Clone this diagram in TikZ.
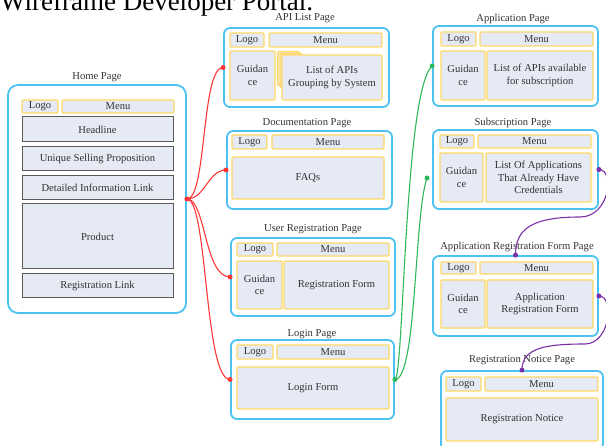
\documentclass[tikz,border=0pt]{standalone}
\usepackage{fontspec}
\setmainfont{Liberation Serif}
\usepackage{tikz}

\definecolor{pageblue}{HTML}{4CC2F1}
\definecolor{baryellow}{HTML}{FFD966}
\definecolor{boxfill}{HTML}{E5EAF5}
\definecolor{boxgray}{HTML}{5A5A5A}
\definecolor{inkgray}{HTML}{333333}
\definecolor{stackfill}{HTML}{F2E4BA}
\definecolor{linkred}{HTML}{FF3636}
\definecolor{linkgreen}{HTML}{2EB85C}
\definecolor{linkpurple}{HTML}{7A2FA6}

\newcommand{\lbl}{\fontsize{10.6}{12.4}\selectfont}

\tikzset{
  wh/.style 2 args={minimum width=#1pt, minimum height=#2pt},
  page/.style={draw=pageblue, line width=1.8pt, rounded corners=6pt, fill=white, inner sep=0pt},
  bar/.style={draw=baryellow, line width=1.2pt, fill=boxfill, rounded corners=1pt, inner sep=0pt,
    text=inkgray, font=\lbl, align=center},
  block/.style={draw=boxgray, line width=1pt, fill=boxfill, inner sep=0pt, text=inkgray, font=\lbl},
  ttl/.style={text=inkgray, font=\lbl, inner sep=0pt},
  conn/.style={draw=#1, line width=1.1pt},
  jdot/.style={circle, fill=#1, inner sep=0pt, minimum size=5pt}
}

\begin{document}
\begin{tikzpicture}[x=1pt, y=-1pt]
        \useasboundingbox (0,0) rectangle (606,446);
        \node[anchor=base west, inner sep=0pt, font=\fontsize{27}{30}\selectfont] (title) at (0,11) {Wireframe Developer Portal.};

        % home page
        \node[page, rounded corners=10pt, wh={178}{228}] (home) at (97,199) {};
        \node[ttl] (homeT) at (97,77) {Home Page};
        \node[bar, wh={36}{13}] (hLogo) at (40,106.5) {Logo};
        \node[bar, wh={112}{13}] (hMenu) at (118,106.5) {Menu};
        \node[block, wh={151}{25}] (headline) at (97.5,129.5) {Headline};
        \node[block, wh={151}{24}] (usp) at (97.5,159) {Unique Selling Proposition};
        \node[block, wh={151}{24}] (detail) at (97.5,188) {Detailed Information Link};
        \node[block, wh={151}{65}] (product) at (97.5,236.5) {Product};
        \node[block, wh={151}{24}] (regLink) at (97.5,286) {Registration Link};

        % api list page
        \node[page, wh={165}{79}] (apilist) at (306.5,67.5) {};
        \node[ttl] (apilistT) at (305,18) {API List Page};
        \node[bar, wh={34}{14}] (aLogo) at (247,40) {Logo};
        \node[bar, wh={113}{14}] (aMenu) at (325.5,40) {Menu};
        \node[bar, wh={45}{49}] (aGuide) at (252.5,75.5) {Guidan\\ce};
        \node[bar, fill=stackfill, wh={22}{34}, anchor=north west] (aStack1) at (277,51) {};
        \node[bar, fill=stackfill, wh={22}{34}, anchor=north west] (aStack2) at (279.5,53) {};
        \node[bar, wh={100}{45}] (aList) at (332,77.5) {List of APIs\\Grouping by System};

        % documentation page
        \node[page, wh={165}{78}] (doc) at (309.5,170) {};
        \node[ttl] (docT) at (307,123) {Documentation Page};
        \node[bar, wh={35}{14}] (dLogo) at (249.5,142) {Logo};
        \node[bar, wh={112}{14}] (dMenu) at (328,142) {Menu};
        \node[bar, wh={152}{42}] (faq) at (308,178) {FAQs};

        % user registration page
        \node[page, wh={164}{78}] (ureg) at (313,277) {};
        \node[ttl] (uregT) at (313,229) {User Registration Page};
        \node[bar, wh={36}{13}] (uLogo) at (255,249.5) {Logo};
        \node[bar, wh={112}{13}] (uMenu) at (333,249.5) {Menu};
        \node[bar, wh={45}{48}] (uGuide) at (259.5,285) {Guidan\\ce};
        \node[bar, wh={105}{48}] (uForm) at (336.5,285) {Registration Form};

        % login page
        \node[page, wh={163}{79}] (login) at (312.5,379.5) {};
        \node[ttl] (loginT) at (312,334) {Login Page};
        \node[bar, wh={36}{14}] (lLogo) at (255,352) {Logo};
        \node[bar, wh={112}{14}] (lMenu) at (333,352) {Menu};
        \node[bar, wh={152}{42}] (lForm) at (313,388) {Login Form};

        % application page
        \node[page, wh={165}{80}] (app) at (515.5,66) {};
        \node[ttl] (appT) at (513,19) {Application Page};
        \node[bar, wh={35}{14}] (pLogo) at (458.5,39) {Logo};
        \node[bar, wh={113}{14}] (pMenu) at (536.5,39) {Menu};
        \node[bar, wh={44}{49}] (pGuide) at (463,75.5) {Guidan\\ce};
        \node[bar, wh={106}{49}] (pList) at (540,75.5) {List of APIs available\\for subscription};

        % subscription page
        \node[page, wh={165}{79}] (sub) at (515.5,169.5) {};
        \node[ttl] (subT) at (513,123) {Subscription Page};
        \node[bar, wh={34}{13}] (sLogo) at (457,141.5) {Logo};
        \node[bar, wh={113}{13}] (sMenu) at (534.5,141.5) {Menu};
        \node[bar, wh={43}{49}] (sGuide) at (461.5,177.5) {Guidan\\ce};
        \node[bar, wh={105}{49}] (sList) at (538.5,177.5) {List Of Applications\\That Already Have\\Credentials};

        % application registration form page
        \node[page, wh={165}{80}] (arf) at (515.5,296) {};
        \node[ttl] (arfT) at (517,247) {Application Registration Form Page};
        \node[bar, wh={35}{12}] (fLogo) at (458.5,268) {Logo};
        \node[bar, wh={113}{12}] (fMenu) at (536.5,268) {Menu};
        \node[bar, wh={44}{48}] (fGuide) at (463,304) {Guidan\\ce};
        \node[bar, wh={106}{48}] (fForm) at (540,304) {Application\\Registration Form};

        % registration notice page
        \node[page, wh={162}{79}] (rn) at (522,410.5) {};
        \node[ttl] (rnT) at (522,360) {Registration Notice Page};
        \node[bar, wh={35}{14}] (rLogo) at (463.5,384) {Logo};
        \node[bar, wh={113}{14}] (rMenu) at (541.5,384) {Menu};
        \node[bar, wh={152}{43}] (notice) at (522,419.5) {Registration Notice};

        % links
        \coordinate (subIn) at (427,178);
        \draw[conn=linkred] (home.east) .. controls +(20,0) and +(-22,0) .. (apilist.west);
        \draw[conn=linkred] (home.east) .. controls +(18,0) and +(-18,0) .. (doc.west);
        \draw[conn=linkred] (home.east) .. controls +(19,0) and +(-26,0) .. (ureg.west);
        \draw[conn=linkred] (home.east) .. controls +(21,0) and +(-26,0) .. (login.west);
        \draw[conn=linkgreen] (login.east) .. controls +(9,0) and +(-28,25) .. (app.west);
        \draw[conn=linkgreen] (login.east) .. controls +(22,0) and +(-13,37) .. (subIn);
        \draw[conn=linkpurple] (sub.east) .. controls +(16,0) and +(30,0) .. (580,217)
              .. controls +(-50,0) and +(0,-25) .. (arf.north);
        \draw[conn=linkpurple] (arf.east) .. controls +(16,0) and +(25,0) .. (585,344)
              .. controls +(-40,0) and +(0,-22) .. (rn.north);

        \node[jdot=linkred] (r0) at (home.east) {};
        \node[jdot=linkred] (r1) at (apilist.west) {};
        \node[jdot=linkred] (r2) at (doc.west) {};
        \node[jdot=linkred] (r3) at (ureg.west) {};
        \node[jdot=linkred] (r4) at (login.west) {};
        \node[jdot=linkgreen] (g0) at (login.east) {};
        \node[jdot=linkgreen] (g1) at (app.west) {};
        \node[jdot=linkgreen] (g2) at (subIn) {};
        \node[jdot=linkpurple] (p0) at (sub.east) {};
        \node[jdot=linkpurple] (p1) at (arf.north) {};
        \node[jdot=linkpurple] (p2) at (arf.east) {};
        \node[jdot=linkpurple] (p3) at (rn.north) {};
      \end{tikzpicture}
\end{document}
